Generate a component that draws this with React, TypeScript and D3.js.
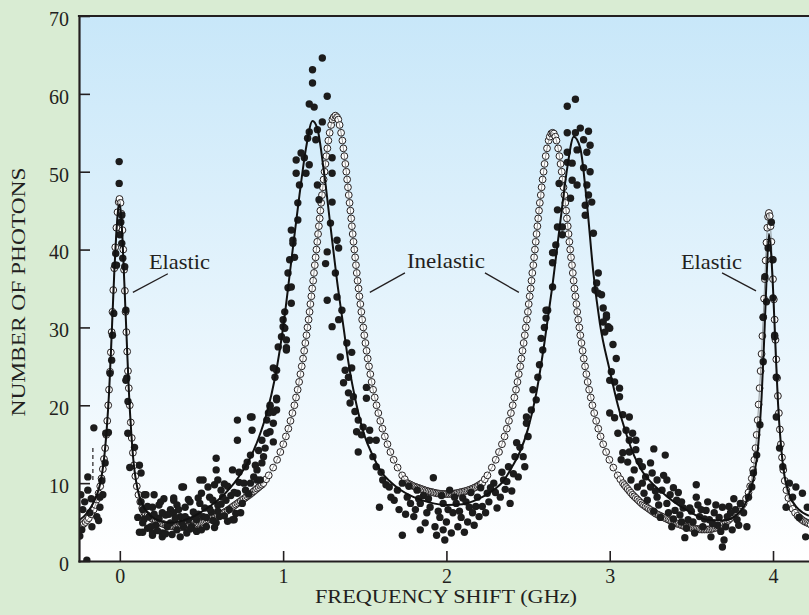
import React, { useEffect, useRef } from 'react';
import * as d3 from 'd3';

// photon counts: [frequency shift (GHz), count]
const measuredCounts: [number, number][] = [
  // left of the elastic line
  [-0.239, 8.5], [-0.196, 9.1], [-0.227, 6.6], [-0.184, 6.2], [-0.141, 5.7], [-0.122, 8.2], [-0.104, 8.5],
  [-0.196, 10.8], [-0.233, 4.0], [-0.202, 0.1], [-0.159, 17.1], [-0.122, 6.9], [-0.171, 4.4], [-0.215, 7.6],
  [-0.245, 3.2], [-0.175, 8.0], [-0.13, 5.2], [-0.11, 10.3],
  // elastic line at 0
  [-0.004, 51.3], [-0.004, 48.5], [0.012, 44.4], [0.0, 41.9], [0.012, 40.8], [0.018, 38.9], [-0.03, 38],
  [-0.02, 38], [0.03, 37.8], [-0.037, 31.8], [0.037, 32.2], [-0.05, 25.8], [-0.06, 24.1], [0.043, 23.5],
  [-0.025, 39.5], [0.006, 43.5], [-0.045, 29], [0.05, 20.5], [-0.07, 16.5], [-0.09, 12.6], [0.061, 12],
  [0.037, 23.2], [-0.086, 16.4], [0.049, 16.4],
  // valley and rise to the first inelastic peak
  [0.09, 14.6], [0.12, 12.3], [0.13, 11.3], [0.16, 8.5], [0.21, 8.5], [0.14, 3.7], [0.2, 3.3], [0.26, 3.1],
  [0.37, 3.1], [0.38, 9.5], [0.33, 7.8], [0.49, 10.4], [0.59, 13.2], [0.59, 11.7], [0.6, 10.4], [0.72, 18.1],
  [0.72, 15.5], [0.81, 18.5], [0.81, 16.8], [0.7, 5.3], [0.15, 8.5], [0.14, 6.6], [0.2, 6.9], [0.24, 7.2],
  [0.26, 6.2], [0.14, 4.9], [0.2, 3.6], [0.26, 3.6], [0.31, 4.9], [0.33, 6.2], [0.37, 5.7], [0.4, 6.9],
  [0.42, 5.3], [0.45, 6.3], [0.47, 5.3], [0.49, 7.4], [0.5, 8.7], [0.51, 5.7], [0.55, 8.2], [0.56, 6.3],
  [0.6, 7.2], [0.61, 5.7], [0.65, 7.8], [0.67, 6.6], [0.69, 5.3], [0.72, 8.7], [0.73, 10.1], [0.77, 9.1],
  [0.8, 10], [0.82, 10.8], [0.29, 4.4], [0.24, 5.5], [0.31, 6.6], [0.35, 7.2], [0.44, 4.4], [0.53, 4.4],
  [0.59, 4.9], [0.39, 4.4], [0.18, 5.7], [0.12, 3.7], [0.54, 9.5], [0.62, 9.1], [0.63, 8.2], [0.57, 7.8],
  [0.51, 10.4], [0.39, 9.5], [0.33, 8.1], [0.69, 11.7], [0.73, 11.4], [0.77, 12.1], [0.78, 12.7], [0.83, 12.3],
  [0.87, 12.6], [0.84, 10.4], [0.88, 13.4], [0.89, 14.5], [0.87, 15.5], [0.9, 16.4], [0.92, 16.6], [0.94, 15.3],
  [0.9, 18.1], [0.96, 19.4], [0.92, 20], [0.96, 20.9], [0.94, 17.7], [0.86, 10.4], [0.84, 11.7],
  [0.22, 4.6], [0.28, 5.9], [0.35, 4.0], [0.43, 7.6], [0.47, 3.8], [0.57, 5.2], [0.64, 5.8], [0.66, 9.6],
  [0.75, 7.4], [0.79, 8.6], [0.17, 4.2], [0.27, 8.0], [0.41, 3.6], [0.48, 6.0], [0.52, 6.8], [0.58, 9.8],
  [0.68, 8.4], [0.74, 6.2], [0.8, 13.6], [0.85, 14.2],
  [0.11, 5.6], [0.13, 7.6], [0.15, 5.4], [0.17, 7.0], [0.19, 4.4], [0.21, 6.0], [0.23, 3.9], [0.25, 7.6],
  [0.28, 3.5], [0.3, 6.0], [0.32, 3.4], [0.34, 5.5], [0.36, 6.6], [0.38, 4.9], [0.4, 5.7], [0.42, 7.9],
  [0.43, 4.1], [0.46, 5.6], [0.48, 8.1], [0.5, 4.0], [0.53, 5.6], [0.55, 6.7], [0.58, 4.3], [0.6, 6.4],
  [0.62, 7.3], [0.64, 9.9], [0.66, 5.1], [0.7, 8.8], [0.71, 6.1], [0.76, 10.0],
  // first inelastic peak
  [1.06, 40.8], [1.07, 39], [1.03, 37], [1.03, 35.1], [1.05, 33.1], [1.01, 32], [1.0, 31], [1.0, 30.1],
  [1.01, 29.9], [0.99, 28.8], [1.02, 28.4], [0.97, 27.5], [1.02, 27.4], [0.96, 24.5], [0.94, 24.8], [0.95, 23.6],
  [0.96, 20.7], [0.92, 19.8], [0.91, 19], [0.94, 19.1], [0.8, 18.5], [1.02, 27.1],
  [1.24, 64.6], [1.18, 63.1], [1.18, 61.4], [1.27, 59.7], [1.16, 58.7], [1.19, 58.3], [1.24, 56.4], [1.16, 55.1],
  [1.21, 55.4], [1.15, 54.3], [1.2, 54.1], [1.11, 52.4], [1.13, 51.8], [1.08, 51.5], [1.16, 50.9], [1.08, 49.8],
  [1.14, 49.8], [1.3, 51.8], [1.3, 49.8], [1.1, 48.3], [1.21, 48.3], [1.09, 46], [1.22, 46.4], [1.3, 46.1],
  [1.09, 43.8], [1.29, 43.4], [1.05, 42.5], [1.06, 41.2], [1.33, 41.2], [1.27, 39.7], [1.34, 40.2], [1.04, 38.7],
  [1.32, 37], [1.05, 35.2], [1.26, 38.2], [1.27, 33.5],
  [1.33, 33.9], [1.36, 32.2], [1.3, 30.1], [1.34, 31], [1.38, 24.5], [1.4, 23.6], [1.42, 24.8], [1.37, 22.9],
  [1.4, 21.6], [1.43, 21.1], [1.51, 22.3], [1.41, 20.3], [1.51, 20.9], [1.46, 18.1], [1.45, 16.6], [1.48, 16.2],
  [1.53, 16.8], [1.53, 15.5], [1.57, 15.5], [1.46, 14], [1.55, 13.4], [1.57, 12.1], [1.6, 11.4], [1.61, 10.4],
  [1.59, 6.9], [1.65, 9.5], [1.66, 8.2], [1.7, 9.1], [1.73, 10], [1.76, 8.2], [1.78, 7.4], [1.82, 9.1],
  [1.84, 7.4], [1.73, 3.3], [1.84, 4.0], [1.8, 5.7], [1.88, 6.2], [1.92, 10.7], [1.9, 6.9], [1.93, 4.4],
  [1.94, 3.3], [1.98, 4.0], [1.99, 2.7], [1.98, 7.4], [2.02, 9.1], [2.04, 6.2], [2.07, 4.4], [2.11, 3.7],
  [2.06, 7.4], [2.1, 8.1], [2.14, 6.9], [2.19, 8.2], [2.2, 5.7], [2.16, 6.2], [2.25, 8.7], [2.29, 10],
  [2.35, 10.4], [2.39, 7.4], [2.33, 8.2], [2.38, 12.1], [2.43, 15.2], [2.47, 13.4], [2.44, 10.8], [2.48, 12.1],
  [2.49, 17.7], [2.49, 18.5], [2.53, 22], [2.55, 20.7], [2.56, 23.6], [2.59, 27.1], [2.61, 32.2], [2.6, 30],
  [1.44, 19.2], [1.49, 17.2], [1.63, 9.8], [1.68, 7.8], [1.75, 6.0], [1.86, 8.4], [1.96, 5.6], [2.0, 5.0],
  [2.03, 3.6], [2.09, 5.6], [2.12, 7.6], [2.17, 4.6], [2.22, 7.0], [2.27, 9.4], [2.31, 6.8], [2.36, 9.2],
  [2.41, 11.2], [2.45, 14.6], [2.5, 16.0], [2.52, 19.4], [2.57, 25.2], [2.58, 28.6], [1.39, 28.0], [1.35, 26.2],
  [1.42, 26.8],
  [1.71, 6.6], [1.77, 9.6], [1.81, 6.6], [1.83, 8.0], [1.87, 4.9], [1.89, 8.0], [1.95, 6.4], [1.97, 8.4],
  [2.01, 6.6], [2.05, 8.2], [2.08, 6.4], [2.13, 5.0], [2.15, 8.8], [2.18, 7.0], [2.21, 9.4], [2.24, 6.2],
  [2.26, 7.6], [2.3, 8.8], [2.34, 11.4], [2.37, 10.2], [2.4, 9.0], [2.42, 13.4],
  // second inelastic peak
  [2.79, 59.3], [2.74, 58.4], [2.82, 55.6], [2.87, 55.2], [2.74, 55], [2.79, 55], [2.84, 54.1], [2.88, 53.4],
  [2.8, 52.8], [2.86, 52.5], [2.74, 52.5], [2.74, 51.2], [2.77, 51.1], [2.84, 50.5], [2.88, 50], [2.77, 48.9],
  [2.8, 48.3], [2.69, 48.5], [2.86, 48.3], [2.76, 46.6], [2.87, 47], [2.89, 46.1], [2.85, 45.7], [2.68, 45.1],
  [2.85, 44.4], [2.68, 42.9], [2.71, 42.9], [2.71, 41.9], [2.9, 42.1], [2.67, 40.6], [2.65, 39.6], [2.66, 39.6],
  [2.65, 38.3], [2.65, 35.2], [2.93, 37], [2.92, 35.7], [2.91, 34.8], [2.93, 34.4], [2.95, 34.2], [2.62, 32.2],
  [2.61, 31.2], [2.96, 32.5], [2.98, 31.3], [2.99, 30.1],
  [2.98, 31.6], [2.96, 30.7], [2.97, 29.4], [3.0, 29.9], [3.01, 24.3], [3.0, 23.2], [3.03, 23], [3.06, 22.2],
  [3.06, 21.1], [3.0, 19], [3.03, 18.4], [3.08, 18.8], [3.12, 18.5], [3.05, 16.4], [3.1, 16.8], [3.14, 16.4],
  [3.12, 15.5], [3.16, 15.5], [3.08, 13.9], [3.12, 14], [3.16, 14.3], [3.07, 13], [3.11, 12.7], [3.15, 11.7],
  [3.2, 12.1], [3.25, 12.6], [3.34, 13.6], [3.26, 11.3], [3.29, 10.4], [3.13, 10.4], [3.17, 9.5], [3.2, 10],
  [3.21, 8.7], [3.25, 9.5], [3.29, 8.2], [3.32, 9.1], [3.35, 10.4], [3.37, 8.5], [3.41, 7.8], [3.3, 7.2],
  [3.35, 7.4], [3.4, 6.5], [3.45, 6.8], [3.43, 5.9], [3.48, 5.3], [3.53, 9.8], [3.53, 8.2], [3.54, 7.2],
  [3.55, 5.7], [3.59, 6.5], [3.61, 5.3], [3.64, 6.2], [3.66, 4.6], [3.69, 6.9], [3.72, 5.7], [3.75, 4.0],
  [3.69, 1.8], [3.7, 2.7], [3.46, 3.0], [3.52, 3.6], [3.62, 3.1], [3.78, 5.3], [3.8, 7.4], [3.82, 6.2],
  [3.84, 4.4], [3.85, 8.2], [3.87, 9.5], [3.88, 11.3],
  [3.23, 7.8], [3.27, 6.4], [3.31, 5.6], [3.38, 4.4], [3.42, 8.8], [3.47, 4.2], [3.5, 6.4], [3.57, 4.4],
  [3.6, 7.6], [3.63, 4.8], [3.67, 5.6], [3.71, 4.4], [3.73, 7.0], [3.77, 6.6], [3.18, 12.8], [3.22, 10.8],
  [3.28, 9.0], [3.33, 11.0], [3.39, 9.4], [3.44, 7.6], [3.27, 14.4], [3.04, 26.0], [3.02, 27.8],
  [3.36, 6.2], [3.39, 5.4], [3.44, 5.0], [3.49, 6.8], [3.51, 5.0], [3.56, 6.6], [3.58, 5.4], [3.65, 7.2],
  [3.68, 3.8], [3.74, 6.2], [3.76, 8.0], [3.79, 4.6],
  // elastic line at 4
  [3.99, 43.5], [3.97, 40.2], [4.0, 38.7], [3.96, 33.3], [3.94, 31.3], [4.0, 33.8], [4.01, 28.8], [3.94, 25.6],
  [4.02, 23.6], [4.01, 29], [4.02, 18.5], [4.1, 10], [4.14, 9.5], [4.08, 6.9], [4.12, 8.2], [4.18, 8.7],
  [4.2, 3.1], [4.06, 12.1], [4.21, 6.9], [3.92, 17.5], [3.9, 13.6], [4.04, 14.5], [4.16, 5.6], [3.95, 36.5],
];

// theoretical spectrum (open circles)
const theoryCounts: [number, number][] = [
  [-0.25, 4.4], [-0.24, 4.5], [-0.23, 4.6], [-0.22, 4.8], [-0.21, 5.0], [-0.2, 5.25], [-0.19, 5.5],
  [-0.175, 6.0], [-0.16, 6.6], [-0.15, 7.2], [-0.14, 7.9],
  [-0.13, 8.7], [-0.12, 9.6], [-0.112, 10.6], [-0.104, 11.8], [-0.097, 13.1], [-0.09, 14.5], [-0.083, 16.2],
  [-0.077, 18], [-0.071, 20], [-0.066, 22], [-0.06, 24.3], [-0.055, 26.8], [-0.05, 29.4], [-0.045, 32],
  [-0.04, 34.8], [-0.034, 37.6], [-0.028, 40.3], [-0.021, 42.8], [-0.014, 44.8], [-0.007, 46.1], [-0.002, 46.5],
  [0.004, 46.0], [0.01, 44.6], [0.016, 42.5], [0.021, 40], [0.026, 37.4], [0.031, 34.7], [0.035, 32],
  [0.04, 29.4], [0.045, 26.9], [0.05, 24.4], [0.055, 22.2], [0.061, 20], [0.067, 17.8], [0.073, 15.8],
  [0.08, 13.9], [0.087, 12.3], [0.095, 10.9], [0.104, 9.6], [0.114, 8.5], [0.125, 7.6], [0.137, 6.8], [0.15, 6.2],
  [0.16, 6.0], [0.17, 5.85], [0.18, 5.7], [0.19, 5.55], [0.2, 5.4], [0.21, 5.27], [0.22, 5.15], [0.23, 5.05],
  [0.24, 4.95], [0.25, 4.87], [0.26, 4.8], [0.27, 4.72], [0.28, 4.65], [0.29, 4.6], [0.3, 4.55], [0.31, 4.5],
  [0.32, 4.45], [0.33, 4.42], [0.34, 4.4], [0.35, 4.37], [0.36, 4.35], [0.37, 4.35], [0.38, 4.35], [0.39, 4.37],
  [0.4, 4.4], [0.41, 4.42], [0.42, 4.45], [0.43, 4.5], [0.44, 4.55], [0.45, 4.6], [0.46, 4.65], [0.47, 4.72],
  [0.48, 4.8], [0.49, 4.87], [0.5, 4.95], [0.51, 5.02], [0.52, 5.1], [0.53, 5.2], [0.54, 5.3], [0.55, 5.4],
  [0.56, 5.5], [0.57, 5.57], [0.58, 5.65], [0.59, 5.72], [0.6, 5.8], [0.61, 5.9], [0.62, 6.0], [0.63, 6.12],
  [0.64, 6.25], [0.65, 6.37], [0.66, 6.5], [0.67, 6.65], [0.68, 6.8], [0.69, 6.95], [0.7, 7.1], [0.71, 7.25],
  [0.72, 7.4], [0.73, 7.55], [0.74, 7.7], [0.75, 7.85], [0.76, 8.0], [0.77, 8.15], [0.78, 8.3], [0.79, 8.45],
  [0.8, 8.6], [0.81, 8.77], [0.82, 8.95], [0.83, 9.12], [0.84, 9.3], [0.85, 9.47], [0.86, 9.65], [0.87, 9.8],
  [0.879, 10], [0.896, 10.5], [0.912, 11], [0.939, 12], [0.963, 13], [0.983, 14], [1.001, 15], [1.017, 16], [1.032, 17],
  [1.045, 18], [1.057, 19], [1.069, 20], [1.079, 21], [1.089, 22], [1.098, 23], [1.106, 24], [1.114, 25],
  [1.122, 26], [1.129, 27], [1.136, 28], [1.143, 29], [1.149, 30], [1.156, 31], [1.162, 32], [1.167, 33],
  [1.173, 34], [1.178, 35], [1.184, 36], [1.189, 37], [1.194, 38], [1.199, 39], [1.204, 40], [1.209, 41],
  [1.214, 42], [1.219, 43], [1.224, 44], [1.228, 45], [1.233, 46], [1.238, 47], [1.243, 48], [1.248, 49],
  [1.254, 50], [1.259, 51], [1.265, 52], [1.271, 53], [1.277, 54], [1.285, 55], [1.294, 56], [1.302, 56.7],
  [1.31, 57], [1.32, 57.2], [1.33, 57], [1.338, 56.7], [1.346, 56], [1.355, 55], [1.363, 54], [1.369, 53],
  [1.375, 52], [1.381, 51], [1.387, 50], [1.392, 49], [1.397, 48], [1.402, 47], [1.407, 46], [1.412, 45],
  [1.417, 44], [1.421, 43], [1.426, 42], [1.431, 41], [1.436, 40], [1.441, 39], [1.446, 38], [1.451, 37],
  [1.456, 36], [1.462, 35], [1.467, 34], [1.473, 33], [1.479, 32], [1.484, 31], [1.491, 30], [1.497, 29],
  [1.504, 28], [1.511, 27], [1.518, 26], [1.526, 25], [1.534, 24], [1.542, 23], [1.551, 22], [1.561, 21],
  [1.572, 20], [1.583, 19], [1.595, 18], [1.608, 17], [1.623, 16], [1.639, 15], [1.657, 14], [1.677, 13],
  [1.701, 12], [1.729, 11], [1.745, 10.5], [1.761, 10],
  [1.77, 9.9], [1.78, 9.8], [1.79, 9.7], [1.8, 9.6], [1.81, 9.52], [1.82, 9.45], [1.83, 9.37], [1.84, 9.3],
  [1.85, 9.22], [1.86, 9.15], [1.87, 9.07], [1.88, 9.0], [1.89, 8.95], [1.9, 8.9], [1.91, 8.85], [1.92, 8.8],
  [1.93, 8.75], [1.94, 8.7], [1.95, 8.67], [1.96, 8.65], [1.97, 8.62], [1.98, 8.6], [1.99, 8.6], [2.0, 8.6],
  [2.01, 8.6], [2.02, 8.6], [2.03, 8.62], [2.04, 8.65], [2.05, 8.67], [2.06, 8.7], [2.07, 8.75], [2.08, 8.8],
  [2.09, 8.85], [2.1, 8.9], [2.11, 8.95], [2.12, 9.0], [2.13, 9.07], [2.14, 9.15], [2.15, 9.22], [2.16, 9.3],
  [2.17, 9.4], [2.18, 9.5], [2.19, 9.62], [2.2, 9.75], [2.21, 9.88],
  [2.219, 10], [2.235, 10.5], [2.251, 11], [2.278, 12], [2.302, 13], [2.322, 14], [2.34, 15], [2.356, 16], [2.37, 17],
  [2.383, 18], [2.395, 19], [2.406, 20], [2.416, 21], [2.426, 22], [2.435, 23], [2.443, 24], [2.452, 25],
  [2.459, 26], [2.466, 27], [2.473, 28], [2.48, 29], [2.486, 30], [2.493, 31], [2.499, 32], [2.504, 33],
  [2.51, 34], [2.516, 35], [2.521, 36], [2.526, 37], [2.532, 38], [2.537, 39], [2.542, 40], [2.547, 41],
  [2.552, 42], [2.557, 43], [2.562, 44], [2.567, 45], [2.572, 46], [2.578, 47], [2.583, 48], [2.589, 49],
  [2.595, 50], [2.601, 51], [2.608, 52], [2.616, 53], [2.626, 54], [2.633, 54.5], [2.642, 54.9], [2.65, 55],
  [2.658, 54.9], [2.667, 54.5], [2.674, 54], [2.684, 53], [2.692, 52], [2.699, 51], [2.706, 50], [2.711, 49],
  [2.717, 48], [2.723, 47], [2.728, 46], [2.733, 45], [2.738, 44], [2.743, 43], [2.748, 42], [2.753, 41],
  [2.758, 40], [2.763, 39], [2.769, 38], [2.774, 37], [2.779, 36], [2.784, 35], [2.79, 34], [2.796, 33],
  [2.801, 32], [2.807, 31], [2.814, 30], [2.82, 29], [2.827, 28], [2.834, 27], [2.841, 26], [2.849, 25],
  [2.857, 24], [2.865, 23], [2.874, 22], [2.884, 21], [2.894, 20], [2.905, 19], [2.917, 18], [2.93, 17],
  [2.944, 16], [2.96, 15], [2.978, 14], [2.998, 13], [3.022, 12], [3.049, 11], [3.065, 10.5], [3.081, 10],
  [3.09, 9.75], [3.1, 9.5], [3.11, 9.25], [3.12, 9.0], [3.13, 8.75], [3.14, 8.5], [3.15, 8.3], [3.16, 8.1],
  [3.17, 7.9], [3.18, 7.7], [3.19, 7.5], [3.2, 7.3], [3.21, 7.15], [3.22, 7.0], [3.23, 6.85], [3.24, 6.7],
  [3.25, 6.55], [3.26, 6.4], [3.27, 6.25], [3.28, 6.1], [3.29, 6.0], [3.3, 5.9], [3.31, 5.8], [3.32, 5.7],
  [3.33, 5.6], [3.34, 5.5], [3.35, 5.4], [3.36, 5.3], [3.37, 5.2], [3.38, 5.1], [3.39, 5.0], [3.4, 4.9],
  [3.41, 4.82], [3.42, 4.75], [3.43, 4.67], [3.44, 4.6], [3.45, 4.52], [3.46, 4.45], [3.47, 4.4], [3.48, 4.35],
  [3.49, 4.3], [3.5, 4.25], [3.51, 4.2], [3.52, 4.15], [3.53, 4.12], [3.54, 4.1], [3.55, 4.07], [3.56, 4.05],
  [3.57, 4.05], [3.58, 4.05], [3.59, 4.05], [3.6, 4.05], [3.61, 4.07], [3.62, 4.1], [3.63, 4.15], [3.64, 4.2],
  [3.65, 4.27], [3.66, 4.35], [3.67, 4.45], [3.68, 4.55], [3.69, 4.67], [3.7, 4.8], [3.71, 4.95], [3.72, 5.1],
  [3.73, 5.3], [3.74, 5.5], [3.75, 5.7],
  [3.76, 5.9], [3.77, 6.1], [3.78, 6.3], [3.79, 6.55], [3.8, 6.8], [3.81, 7.1], [3.82, 7.4], [3.835, 8.0],
  [3.85, 8.8], [3.86, 9.6], [3.87, 10.6],
  [3.878, 11.7], [3.886, 13], [3.893, 14.5], [3.9, 16.2], [3.906, 18.1], [3.912, 20.1], [3.918, 22.2],
  [3.924, 24.4], [3.93, 26.6], [3.935, 28.9], [3.94, 31.3], [3.945, 33.7], [3.95, 36.2], [3.955, 38.6],
  [3.96, 40.9], [3.965, 42.8], [3.97, 44.2], [3.975, 44.7], [3.98, 44.3], [3.985, 43], [3.99, 41],
  [3.995, 38.7], [4.0, 36.2], [4.005, 33.6], [4.01, 31], [4.015, 28.4], [4.02, 25.9], [4.025, 23.5],
  [4.03, 21.2], [4.036, 19], [4.042, 16.9], [4.048, 15], [4.055, 13.3], [4.063, 11.7], [4.072, 10.3],
  [4.082, 9.1], [4.094, 8.1], [4.107, 7.3], [4.12, 6.7], [4.135, 6.2], [4.15, 5.8], [4.16, 5.6], [4.17, 5.4],
  [4.18, 5.25], [4.19, 5.1], [4.2, 5.0], [4.21, 4.9], [4.22, 4.8], [4.23, 4.7],
];

// fitted curve through the measured counts (solid line)
const fitCounts: [number, number][] = [
  [-0.25, 5.2], [-0.2, 6.2], [-0.15, 8.0], [-0.12, 10.0], [-0.1, 12.5], [-0.08, 17], [-0.065, 22], [-0.05, 29],
  [-0.035, 36.5], [-0.02, 42.5], [-0.008, 45.5], [0.0, 45.8], [0.012, 43], [0.025, 37], [0.04, 29.5],
  [0.055, 22], [0.07, 16.5], [0.085, 12.5], [0.1, 10.2], [0.12, 8.3], [0.15, 6.8], [0.2, 5.6], [0.25, 5.1],
  [0.3, 4.9], [0.35, 5.0], [0.4, 5.3], [0.45, 5.7], [0.5, 6.3], [0.55, 7.0], [0.6, 7.8], [0.65, 8.8],
  [0.7, 10.0], [0.75, 11.5], [0.8, 13.3], [0.85, 15.8], [0.9, 19], [0.95, 23.5], [1.0, 30], [1.05, 38.5],
  [1.1, 47], [1.14, 53], [1.18, 56.5], [1.21, 55.5], [1.25, 50], [1.29, 43], [1.33, 36], [1.37, 30],
  [1.4, 25.5], [1.45, 20], [1.5, 16], [1.55, 13.5], [1.6, 11.5], [1.65, 10.3], [1.7, 9.4], [1.8, 8.2],
  [1.9, 7.5], [2.0, 7.2], [2.1, 7.3], [2.2, 8.0], [2.3, 9.3], [2.35, 10.3], [2.4, 12], [2.45, 14], [2.5, 17],
  [2.55, 21.5], [2.6, 28], [2.65, 35.5], [2.7, 44], [2.74, 50.5], [2.78, 54.5], [2.82, 53], [2.86, 46],
  [2.9, 37], [2.94, 30.5], [3.0, 24.5], [3.05, 20], [3.1, 16.4], [3.15, 13.5], [3.2, 11.5], [3.25, 10.2],
  [3.3, 9.2], [3.35, 8.3], [3.4, 7.5], [3.5, 6.2], [3.6, 5.3], [3.7, 5.2], [3.78, 6.0], [3.84, 7.8],
  [3.88, 10.5], [3.91, 15], [3.93, 21], [3.945, 28], [3.96, 36], [3.975, 42], [3.99, 39], [4.0, 35],
  [4.015, 27.5], [4.03, 20.5], [4.05, 14.5], [4.07, 11], [4.1, 8.5], [4.15, 6.8], [4.22, 5.8],
];

// dashed error mark near the left edge: [shift, low, high]
const errorMarks: [number, number, number][] = [[-0.165, 10.4, 14.5]];

const yTickValues = [0, 10, 20, 30, 40, 50, 60, 70];
const xTickValues = [0, 1, 2, 3, 4];

// labels: text anchor and leader lines in data units
const peakLabels = [
  { text: 'Elastic', x: 0.178, y: 37.5, len: 61, leaders: [[0.294, 36.9, 0.08, 34.5]] },
  { text: 'Inelastic', x: 1.758, y: 37.6, len: 78, leaders: [[1.746, 37, 1.531, 34.5], [2.236, 37, 2.444, 34.5]] },
  { text: 'Elastic', x: 3.436, y: 37.5, len: 61, leaders: [[3.688, 37, 3.896, 34.7]] },
];

const W = 809, H = 615;
const margin = { top: 16, left: 79, bottom: 54 };
const ink = '#231f20';
const serif = "'Liberation Serif', 'DejaVu Serif', serif";

export default function App() {
  const ref = useRef<SVGSVGElement>(null);

  useEffect(() => {
    const svg = d3.select(ref.current);
    svg.selectAll('*').remove();

    const x = d3.scaleLinear().domain([-0.25, 4.3]).range([margin.left, margin.left + 743]);
    const y = d3.scaleLinear().domain([0, 70]).range([H - margin.bottom, margin.top]);
    const [x0, x1] = x.range();

    const defs = svg.append('defs');
    const grad = defs.append('linearGradient').attr('id', 'plotSky')
      .attr('x1', 0).attr('y1', 0).attr('x2', 0).attr('y2', 1);
    grad.append('stop').attr('offset', '0%').attr('stop-color', '#c8e7f9');
    grad.append('stop').attr('offset', '100%').attr('stop-color', '#ffffff');
    defs.append('clipPath').attr('id', 'plotClip').append('rect')
      .attr('x', x0).attr('y', y(70)).attr('width', x1 - x0).attr('height', y(0) - y(70));

    svg.append('rect').attr('width', W).attr('height', H).attr('fill', '#d9ecd3');
    svg.append('rect').attr('x', x0).attr('y', y(70)).attr('width', x1 - x0)
      .attr('height', y(0) - y(70)).attr('fill', 'url(#plotSky)');

    const plot = svg.append('g').attr('clip-path', 'url(#plotClip)');

    // open circles: theory
    plot.append('g').selectAll('circle').data(theoryCounts).join('circle')
      .attr('cx', d => x(d[0])).attr('cy', d => y(d[1])).attr('r', 3.4)
      .attr('fill', '#fff').attr('stroke', ink).attr('stroke-width', 1);
    plot.append('path').datum(theoryCounts)
      .attr('d', d3.line<[number, number]>().x(d => x(d[0])).y(d => y(d[1])))
      .attr('fill', 'none').attr('stroke', '#555').attr('stroke-width', 0.6);

    // filled dots: measurement
    plot.append('g').selectAll('circle').data(measuredCounts).join('circle')
      .attr('cx', d => x(d[0])).attr('cy', d => y(d[1])).attr('r', 3.7)
      .attr('fill', '#1c1c1c');

    // fitted line
    plot.append('path').datum(fitCounts)
      .attr('d', d3.line<[number, number]>().curve(d3.curveMonotoneX).x(d => x(d[0])).y(d => y(d[1])))
      .attr('fill', 'none').attr('stroke', '#111').attr('stroke-width', 2);

    plot.selectAll('line.err').data(errorMarks).join('line').attr('class', 'err')
      .attr('x1', d => x(d[0])).attr('x2', d => x(d[0]))
      .attr('y1', d => y(d[1])).attr('y2', d => y(d[2]))
      .attr('stroke', ink).attr('stroke-width', 1.2).attr('stroke-dasharray', '4,3');

    // axes
    const yAxis = d3.axisLeft(y).tickValues(yTickValues).tickSize(-11).tickSizeOuter(0).tickPadding(10)
      .tickFormat(d3.format('d'));
    svg.append('g').attr('transform', `translate(${x0},0)`).call(yAxis)
      .attr('font-family', serif).attr('font-size', 20)
      .call(g => {
        g.select('.domain').attr('stroke', ink).attr('stroke-width', 2.2).attr('stroke-linecap', 'square');
        g.selectAll('.tick line').attr('stroke', ink).attr('stroke-width', 1.6);
        g.selectAll('.tick text').attr('fill', ink).attr('dy', '0.47em');
      });

    const xAxis = d3.axisBottom(x).tickValues(xTickValues).tickSize(-10).tickSizeOuter(0).tickPadding(8)
      .tickFormat(d3.format('d'));
    svg.append('g').attr('transform', `translate(0,${y(0)})`).call(xAxis)
      .attr('font-family', serif).attr('font-size', 20)
      .call(g => {
        g.select('.domain').attr('stroke', ink).attr('stroke-width', 2.2).attr('stroke-linecap', 'square');
        g.selectAll('.tick line').attr('stroke', ink).attr('stroke-width', 1.6);
        g.selectAll('.tick text').attr('fill', ink);
      });

    svg.append('line').attr('x1', x0).attr('x2', x1).attr('y1', y(70)).attr('y2', y(70))
      .attr('stroke', ink).attr('stroke-width', 2.2).attr('stroke-linecap', 'square');

    // peak labels
    const notes = svg.append('g');
    peakLabels.forEach(p => {
      notes.append('text').attr('x', x(p.x)).attr('y', y(p.y)).text(p.text)
        .attr('font-family', serif).attr('font-size', 21).attr('fill', ink)
        .attr('textLength', p.len).attr('lengthAdjust', 'spacingAndGlyphs');
      p.leaders.forEach(l => {
        notes.append('line').attr('x1', x(l[0])).attr('y1', y(l[1])).attr('x2', x(l[2])).attr('y2', y(l[3]))
          .attr('stroke', ink).attr('stroke-width', 1.3);
      });
    });

    // axis titles
    svg.append('text').attr('x', 446).attr('y', 603).attr('text-anchor', 'middle')
      .attr('font-family', serif).attr('font-size', 19).attr('fill', ink)
      .attr('textLength', 262).attr('lengthAdjust', 'spacingAndGlyphs')
      .text('FREQUENCY SHIFT (GHz)');
    svg.append('text').attr('transform', 'translate(25,292) rotate(-90)').attr('text-anchor', 'middle')
      .attr('font-family', serif).attr('font-size', 19).attr('fill', ink)
      .attr('textLength', 249).attr('lengthAdjust', 'spacingAndGlyphs')
      .text('NUMBER OF PHOTONS');
  }, []);

  return (
    <svg ref={ref} width={W} height={H}
      style={{ position: 'absolute', left: 0, top: 0, display: 'block' }} />
  );
}
